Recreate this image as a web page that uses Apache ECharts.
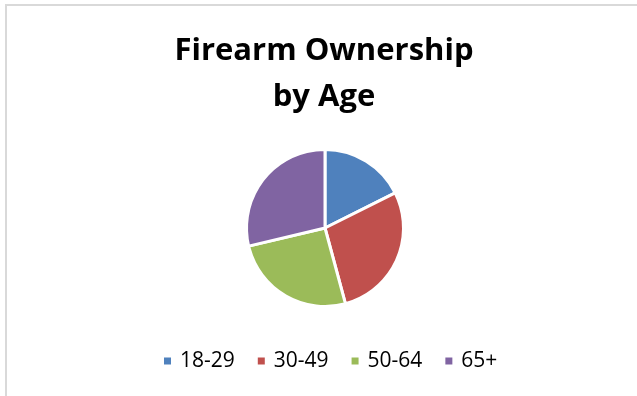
<!DOCTYPE html>
<html><head><meta charset="utf-8">
<script src="https://cdn.jsdelivr.net/npm/echarts@6/dist/echarts.min.js"></script>
<style>html,body{margin:0;padding:0;background:#fff}#c{width:637px;height:396px}</style>
</head><body><div id="c"></div>
<script>
const categories = ['18-29', '30-49', '50-64', '65+'];
const values = [17.6, 28.2, 25.5, 28.7];
const colors = ['#4F81BD', '#C0504D', '#9BBB59', '#8064A2'];
const titleText = 'Firearm Ownership\nby Age';

const chart = echarts.init(document.getElementById('c'), null, {renderer: 'canvas'});
chart.setOption({
  animation: false,
  backgroundColor: '#fff',
  title: {
    text: titleText,
    left: 324, top: 28, textAlign: 'center', padding: 0,
    textStyle: {fontFamily: 'Open Sans', fontWeight: 'bold', fontSize: 31, lineHeight: 46, color: '#000'}
  },
  legend: {
    data: categories,
    top: 349,
    left: 162,
    padding: 0,
    icon: 'rect',
    itemWidth: 9, itemHeight: 9, itemGap: 21,
    textStyle: {fontFamily: 'Open Sans', fontSize: 21, lineHeight: 24, color: '#000', padding: [0, 0, 0, 3]}
  },
  series: [{
    type: 'pie',
    center: [325, 228],
    radius: 78.5,
    startAngle: 90,
    clockwise: true,
    label: {show: false},
    labelLine: {show: false},
    itemStyle: {borderColor: '#fff', borderWidth: 3},
    emphasis: {disabled: true},
    data: categories.map((c, i) => ({name: c, value: values[i], itemStyle: {color: colors[i]}}))
  }],
  graphic: [{
    type: 'rect', shape: {x: 6, y: 5, width: 640, height: 400},
    style: {fill: 'none', stroke: '#d9d9d9', lineWidth: 2}, silent: true
  }]
});
</script></body></html>
